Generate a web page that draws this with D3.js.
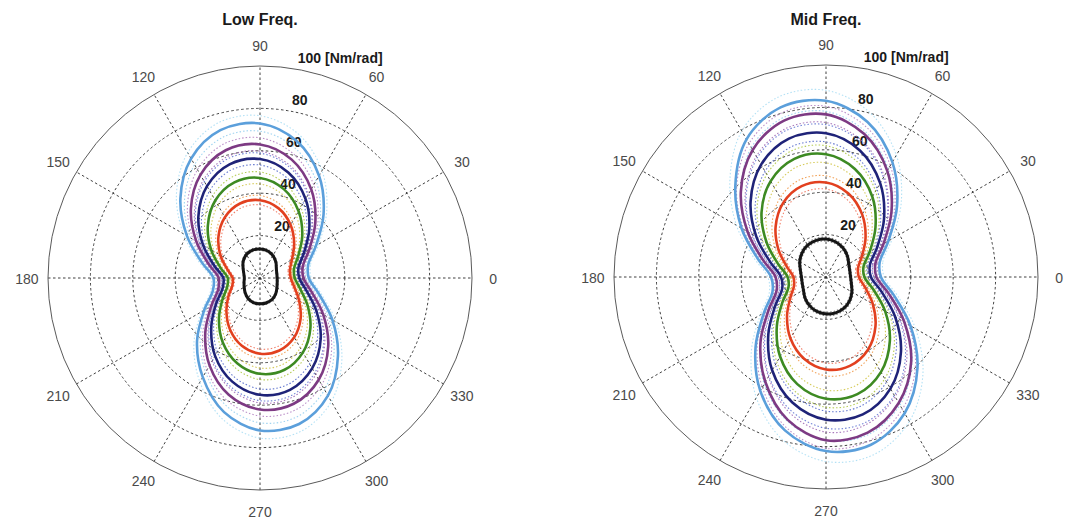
<!DOCTYPE html>
<html>
<head>
<meta charset="utf-8">
<script src="https://cdn.jsdelivr.net/npm/d3@7"></script>
<style>
  html, body { margin: 0; padding: 0; background: #fff; }
  svg { display: block; font-family: Arial, "Liberation Sans", Helvetica, sans-serif; }
</style>
</head>
<body>
<svg id="chart" width="1070" height="522"></svg>
<script>
// Sample directions (degrees, counter-clockwise from 0 = east)
const angles = d3.range(0, 360, 15);

// Polar grid
const ringValues = [20, 40, 60, 80];
const rMax = 100;
const spokeAngles = [0, 30, 60, 90, 120, 150];
const angleTicks = [0, 30, 60, 90, 120, 150, 180, 210, 240, 270, 300, 330];
const radialTickLabels = ["20", "40", "60", "80", "100 [Nm/rad]"];
const radialTickValues = [20, 40, 60, 80, 100];

// Line colours per level: mean curve, inner and outer dotted bound
const seriesColors = ["#151515", "#e2401f", "#3d8a22", "#1f2378", "#7d3a83", "#5b9fdb"];
const innerColors  = ["#666666", "#ef6a50", "#cfc23e", "#4a62c8", "#9a60b0", "#8fcdef"];
const outerColors  = ["#666666", "#f0923c", "#a9c43a", "#5a6fd0", "#b07cc0", "#a6dcf3"];

// Stiffness [Nm/rad] per direction, one array per level
const lowBlack  = [8.1, 8.2, 8.9, 10.6, 12.2, 13.3, 13.7, 13.6, 12.8, 11.2, 9.2, 7.9, 7.4, 7.8, 8.6, 9.9, 11.2, 12.0, 12.2, 12.1, 11.6, 10.5, 9.2, 8.4];
const lowRed    = [14.5, 14.6, 17.4, 22.8, 28.9, 34.0, 36.7, 36.4, 33.1, 27.7, 21.6, 16.0, 12.9, 13.5, 17.2, 22.4, 28.2, 33.1, 35.7, 35.4, 32.3, 27.1, 21.3, 16.8];
const lowGreen  = [16.4, 16.6, 20.8, 28.2, 36.4, 43.4, 47.2, 46.7, 42.2, 34.8, 26.6, 19.4, 15.2, 16.0, 20.5, 27.4, 35.1, 41.6, 45.2, 44.8, 40.5, 33.6, 25.9, 19.6];
const lowNavy   = [18.5, 18.8, 24.0, 32.9, 43.0, 51.5, 56.1, 55.5, 50.0, 41.1, 31.0, 22.3, 17.3, 18.2, 23.8, 32.5, 42.4, 50.6, 55.1, 54.6, 49.2, 40.5, 30.6, 22.6];
const lowPurple = [20.5, 20.9, 26.8, 36.9, 48.3, 57.8, 63.0, 62.4, 56.2, 46.1, 34.7, 25.0, 19.5, 20.4, 26.6, 36.5, 47.6, 57.0, 62.0, 61.4, 55.4, 45.5, 34.4, 25.2];
const lowBlue   = [23.0, 23.5, 30.5, 42.4, 55.7, 66.9, 72.9, 72.2, 65.0, 53.1, 39.8, 28.4, 22.0, 23.0, 30.4, 42.0, 54.0, 65.5, 71.9, 71.3, 64.1, 52.0, 39.4, 28.7];

const midBlack  = [11.6, 11.6, 12.4, 14.2, 15.9, 17.2, 17.9, 17.9, 17.3, 16.0, 14.3, 12.5, 11.6, 11.6, 12.3, 14.0, 15.6, 16.8, 17.4, 17.5, 17.0, 15.8, 14.1, 12.4];
const midRed    = [15.5, 15.6, 19.6, 26.4, 34.1, 40.8, 44.6, 44.4, 40.4, 33.6, 25.9, 19.2, 15.4, 15.6, 19.4, 26.0, 33.5, 39.9, 43.6, 43.4, 39.6, 33.0, 25.5, 19.1];
const midGreen  = [18.1, 18.3, 23.8, 33.0, 43.7, 52.7, 57.9, 57.7, 52.2, 43.0, 32.3, 23.3, 18.1, 18.3, 23.7, 32.8, 43.3, 52.3, 57.4, 57.2, 51.8, 42.6, 32.2, 23.2];
const midNavy   = [21.2, 21.4, 27.8, 38.7, 51.1, 61.8, 67.8, 67.6, 61.2, 50.3, 37.9, 27.2, 21.2, 21.4, 27.8, 38.5, 50.8, 61.3, 67.3, 67.1, 60.8, 50.0, 37.7, 27.2];
const midPurple = [23.8, 24.1, 31.3, 43.7, 57.8, 69.8, 76.7, 76.4, 69.2, 56.8, 42.7, 30.7, 23.8, 24.1, 31.3, 43.7, 57.2, 69.8, 77.0, 76.0, 68.6, 56.8, 42.7, 30.7];
const midBlue   = [25.9, 26.2, 34.0, 47.4, 62.6, 75.7, 83.1, 82.8, 75.0, 60.5, 46.0, 33.3, 25.9, 26.1, 33.8, 47.0, 62.0, 74.9, 82.1, 81.9, 74.2, 61.0, 46.0, 33.1];

// Relative half-width of the dotted variability band for each level
const lowSpread = [0.05, 0.06, 0.06, 0.05, 0.05, 0.05];
const midSpread = [0.05, 0.07, 0.07, 0.06, 0.05, 0.06];

const panels = [
  { title: "Low Freq.", cx: 260, cy: 278, series: [lowBlack, lowRed, lowGreen, lowNavy, lowPurple, lowBlue], spread: lowSpread },
  { title: "Mid Freq.", cx: 826, cy: 277, series: [midBlack, midRed, midGreen, midNavy, midPurple, midBlue], spread: midSpread }
];

const R = 212;
const r = d3.scaleLinear().domain([0, rMax]).range([0, R]);
const rad = d => d * Math.PI / 180;

const svg = d3.select("#chart");

panels.forEach(p => {
  const g = svg.append("g").attr("transform", `translate(${p.cx},${p.cy})`);

  // title
  svg.append("text")
    .attr("x", p.cx).attr("y", 25)
    .attr("text-anchor", "middle")
    .attr("font-size", 16).attr("font-weight", "bold").attr("fill", "#1a1a1a")
    .text(p.title);

  // dashed rings
  g.selectAll("circle.ring").data(ringValues).join("circle")
    .attr("class", "ring")
    .attr("r", d => r(d))
    .attr("fill", "none").attr("stroke", "#2a2a2a").attr("stroke-width", 0.9)
    .attr("stroke-dasharray", "2.5,2.5");

  // spokes through the origin
  g.selectAll("line.spoke").data(spokeAngles).join("line")
    .attr("class", "spoke")
    .attr("x1", d => -r(rMax) * Math.cos(rad(d))).attr("y1", d => r(rMax) * Math.sin(rad(d)))
    .attr("x2", d => r(rMax) * Math.cos(rad(d))).attr("y2", d => -r(rMax) * Math.sin(rad(d)))
    .attr("stroke", "#2a2a2a").attr("stroke-width", 0.9)
    .attr("stroke-dasharray", "2.5,2.5");

  // outer boundary
  g.append("circle").attr("r", r(rMax))
    .attr("fill", "none").attr("stroke", "#5a5a5a").attr("stroke-width", 1);

  // angle labels
  g.selectAll("text.ang").data(angleTicks).join("text")
    .attr("class", "ang")
    .attr("x", d => 1.1 * r(rMax) * Math.cos(rad(d)))
    .attr("y", d => -1.1 * r(rMax) * Math.sin(rad(d)) + 1)
    .attr("text-anchor", "middle").attr("dominant-baseline", "central")
    .attr("font-size", 14).attr("fill", "#4a4a4a")
    .text(d => d);

  // radial tick labels along the 82 degree direction
  g.selectAll("text.rt").data(radialTickValues).join("text")
    .attr("class", "rt")
    .attr("x", d => r(d + 1) * Math.cos(rad(82)) + 8)
    .attr("y", d => -r(d + 1) * Math.sin(rad(82)) - 3)
    .attr("text-anchor", "start")
    .attr("font-size", 14).attr("font-weight", "bold").attr("fill", "#1a1a1a")
    .text((d, i) => radialTickLabels[i]);

  const line = d3.lineRadial()
    .angle((v, i) => rad(90 - angles[i]))
    .radius(v => r(v))
    .curve(d3.curveCatmullRomClosed.alpha(0.5));

  // dotted variability bounds
  p.series.forEach((vals, k) => {
    [[1 - p.spread[k], innerColors[k]], [1 + p.spread[k], outerColors[k]]].forEach(([f, col]) => {
      g.append("path")
        .attr("d", line(vals.map(v => v * f)))
        .attr("fill", "none")
        .attr("stroke", col).attr("stroke-width", 1.1)
        .attr("stroke-dasharray", "1.5,2")
        .attr("opacity", 0.85);
    });
  });

  // mean curves
  p.series.forEach((vals, k) => {
    g.append("path")
      .attr("d", line(vals))
      .attr("fill", "none")
      .attr("stroke", seriesColors[k])
      .attr("stroke-width", k === 0 ? 3 : 2.6)
      .attr("stroke-linejoin", "round");
  });
});
</script>
</body>
</html>
